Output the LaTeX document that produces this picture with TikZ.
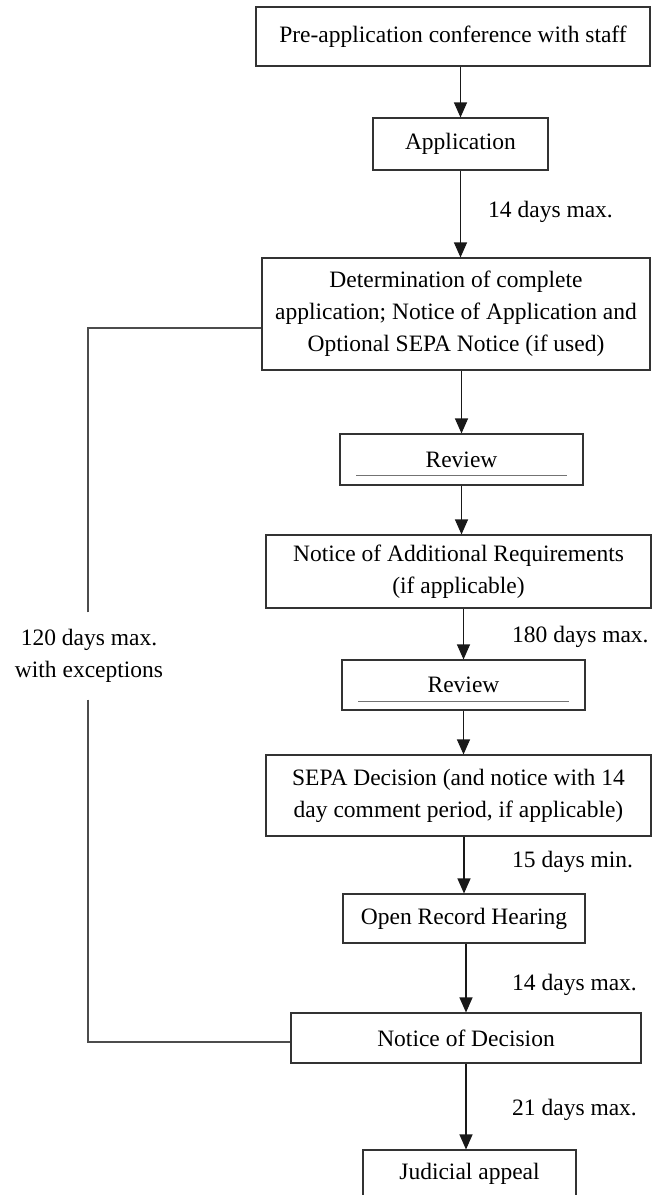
\documentclass[tikz,border=0pt]{standalone}
\usepackage{fontspec}
\setmainfont{Liberation Serif}
\usetikzlibrary{arrows.meta}

\begin{document}
\begin{tikzpicture}[x=1pt,y=-1pt]
\tikzset{box/.style = {shape=rectangle,draw=black!80,line width=1.1pt,inner sep=2pt,align=center,font=\fontsize{23.5}{32}\selectfont}}
\tikzset{edge/.style = {-{Triangle[width=13pt,length=15pt]},draw=black!90,line width=1.1pt}}
\tikzset{days/.style = {anchor=west,inner sep=0pt,font=\fontsize{23.5}{32}\selectfont}}
\tikzset{link/.style = {draw=black!70,line width=1.1pt}}
\tikzset{rule/.style = {draw=black!55,line width=0.7pt}}

\useasboundingbox (0,0) rectangle (652,1195);
\clip (0,0) rectangle (652,1195);

% boxes
\node[box,minimum width=394pt,minimum height=59pt] (pre) at (453,36.5) {Pre-application conference with staff};
\node[box,minimum width=175pt,minimum height=52pt] (app) at (460.5,144) {Application};
\node[box,minimum width=388pt,minimum height=112pt] (det) at (456,314) {Determination of complete\\application; Notice of Application and\\Optional SEPA Notice (if used)};
\node[box,minimum width=243pt,minimum height=51pt] (rev1) at (461.5,459.5) {Review};
\node[box,minimum width=385pt,minimum height=73pt] (nar) at (458.5,571.5) {Notice of Additional Requirements\\(if applicable)};
\node[box,minimum width=243pt,minimum height=50pt] (rev2) at (463.5,685) {Review};
\node[box,minimum width=385pt,minimum height=81pt] (sepa) at (458.5,795.5) {SEPA Decision (and notice with 14\\day comment period, if applicable)};
\node[box,minimum width=242pt,minimum height=49pt] (orh) at (464,918.5) {Open Record Hearing};
\node[box,minimum width=350pt,minimum height=50pt] (notice) at (466,1038) {Notice of Decision};
\node[box,minimum width=213pt,minimum height=48pt] (jud) at (469.5,1174) {Judicial appeal};

% lines inside the review boxes
\draw[rule] ([xshift=17pt,yshift=10pt]rev1.south west) -- ([xshift=-17pt,yshift=10pt]rev1.south east);
\draw[rule] ([xshift=17pt,yshift=9pt]rev2.south west) -- ([xshift=-17pt,yshift=9pt]rev2.south east);

% time labels
\node[days] (t1) at (488,212) {14 days max.};
\node[days] (t2) at (512,637) {180 days max.};
\node[days] (t3) at (512,862) {15 days min.};
\node[days] (t4) at (512,985) {14 days max.};
\node[days] (t5) at (512,1110) {21 days max.};
\node[align=center,inner sep=0pt,minimum height=87pt,font=\fontsize{23.5}{32}\selectfont] (total) at (89,656) {120 days max.\\with exceptions};

%edges
\draw[edge] (app.north |- pre.south) -- (app.north);
\draw[edge] (app.south) -- (app.south |- det.north);
\draw[edge] (rev1.north |- det.south) -- (rev1.north);
\draw[edge] (rev1.south) -- (rev1.south |- nar.north);
\draw[edge] (rev2.north |- nar.south) -- (rev2.north);
\draw[edge] (rev2.south) -- (rev2.south |- sepa.north);
\draw[edge] (orh.north |- sepa.south) -- (orh.north);
\draw[edge] (notice.north |- orh.south) -- (notice.north);
\draw[edge] (notice.south) -- (notice.south |- jud.north);

% overall limit
\draw[link] ([xshift=-1pt]total.north) |- ([yshift=-14pt]det.west);
\draw[link] ([xshift=-1pt]total.south) |- ([yshift=-4pt]notice.west);

\end{tikzpicture}
\end{document}
